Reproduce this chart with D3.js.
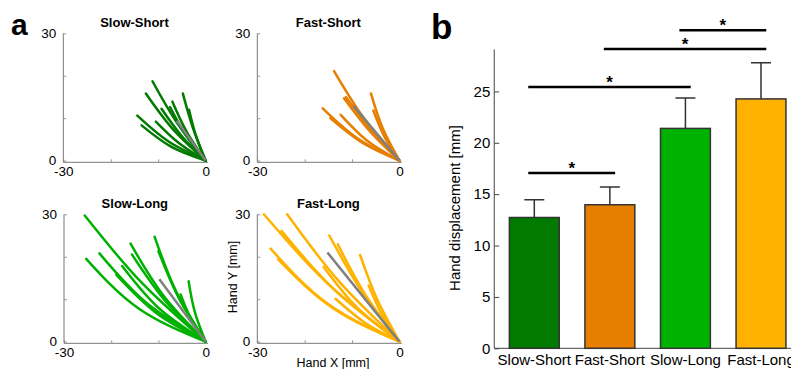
<!DOCTYPE html>
<html>
<head>
<meta charset="utf-8">
<script src="https://cdn.jsdelivr.net/npm/d3@7"></script>
<style>
  body { margin: 0; background: #fff; }
  svg { display: block; font-family: "Liberation Sans", Arial, sans-serif; }
</style>
</head>
<body>
<div id="chart"></div>
<script>
// ---- panel a: hand paths, each as [mid, end] in mm (all start at 0,0)
const conditions = ["Slow-Short", "Fast-Short", "Slow-Long", "Fast-Long"]
const colors = ["#007a00", "#e67e00", "#00b200", "#ffb300"]

const pathsSlowShort = [
  [[-6.1, 9.0], [-11.2, 18.7]],
  [[-6.9, 7.4], [-12.6, 15.8]],
  [[-2.7, 7.8], [-4.8, 15.8]],
  [[-7.8, 4.5], [-14.4, 10.6]],
  [[-7.3, 3.3], [-13.5, 8.3]],
  [[-5.05, 5.8], [-9.3, 12.2]],
  [[-5.65, 4.15], [-10.5, 9.2]],
  [[-3.95, 6.7], [-7.0, 13.9]],
  [[-2.05, 5.9], [-3.5, 12.0]],
  [[-4.2, 6.05], [-7.5, 12.6]]
]
const pathsFastShort = [
  [[-7.55, 10.1], [-13.8, 21.1]],
  [[-8.8, 5.2], [-16.2, 12.3]],
  [[-7.85, 4.2], [-14.6, 10.0]],
  [[-6.3, 7.0], [-11.7, 14.7]],
  [[-5.95, 7.25], [-11.3, 15.0]],
  [[-6.8, 4.7], [-12.4, 10.8]],
  [[-3.55, 7.7], [-6.0, 15.8]],
  [[-3.2, 5.7], [-5.5, 11.8]]
]
const pathsSlowLong = [
  [[-13.7, 14.05], [-25.6, 29.7]],
  [[-14.2, 7.8], [-25.3, 19.5]],
  [[-12.5, 9.1], [-22.5, 20.8]],
  [[-8.95, 10.85], [-15.9, 23.1]],
  [[-6.3, 11.95], [-10.8, 24.7]],
  [[-5.7, 10.3], [-10.0, 21.3]],
  [[-9.9, 7.85], [-17.7, 17.8]],
  [[-10.4, 6.7], [-18.9, 15.7]],
  [[-8.6, 9.65], [-15.6, 20.5]],
  [[-2.3, 7.0], [-3.6, 14.2]],
  [[-3.1, 5.35], [-5.3, 11.1]]
]
const pathsFastLong = [
  [[-15.4, 13.95], [-28.6, 30.0]],
  [[-12.8, 14.25], [-23.7, 30.0]],
  [[-13.55, 12.0], [-24.9, 26.1]],
  [[-15.2, 9.0], [-27.2, 21.9]],
  [[-14.1, 7.95], [-25.6, 19.4]],
  [[-8.1, 12.1], [-14.8, 25.0]],
  [[-7.2, 11.05], [-13.0, 22.9]],
  [[-4.7, 9.95], [-8.3, 20.4]],
  [[-8.9, 8.0], [-16.0, 17.6]],
  [[-7.2, 4.4], [-13.5, 10.1]],
  [[-3.7, 6.4], [-6.5, 13.2]]
]
const meanEnds = [[-6.1, 9.4], [-9.7, 12.9], [-9.8, 14.7], [-15.2, 21.0]]
const aTicksX = [-30, -20, -10, 0]
const aTicksY = [0, 10, 20, 30]

// ---- panel b: mean hand displacement
const means = [12.73, 13.97, 21.4, 24.27]
const errs = [1.72, 1.72, 2.96, 3.53]
const bTicks = [0, 5, 10, 15, 20, 25]
const sigFrom = [1, 1, 2, 3]
const sigTo = [2, 3, 4, 4]
const sigLevel = [17.06, 25.44, 29.14, 30.96]

const width = 791
const height = 369

const svg = d3.select("#chart").append("svg")
    .attr("width", width)
    .attr("height", height)

const allPaths = [pathsSlowShort, pathsFastShort, pathsSlowLong, pathsFastLong]
const boxes = [
  {left: 63.3, right: 208, top: 33.3, bottom: 162.3},
  {left: 257.3, right: 401.8, top: 33.3, bottom: 162.3},
  {left: 64, right: 208, top: 214.3, bottom: 343.3},
  {left: 257.3, right: 401.8, top: 214.3, bottom: 343.3}
]

conditions.forEach((name, i) => {
  const b = boxes[i]
  const x = d3.scaleLinear().domain([-30, 0.5]).range([b.left, b.right])
  const y = d3.scaleLinear().domain([-0.4, 30]).range([b.bottom, b.top])
  const g = svg.append("g")

  g.append("g")
      .attr("transform", `translate(0,${b.bottom})`)
      .call(d3.axisBottom(x).tickValues(aTicksX).tickSize(-3).tickPadding(4)
        .tickFormat(d => (d === -30 || d === 0) ? d : ""))
      .call(g => g.select(".domain").attr("stroke", "#777").attr("d", `M${b.left},0H${b.right}`))
      .call(g => g.selectAll(".tick line").attr("stroke", "#999"))
      .call(g => g.selectAll(".tick text").attr("font-size", 13.5).attr("fill", "#000"))

  g.append("g")
      .attr("transform", `translate(${b.left},0)`)
      .call(d3.axisLeft(y).tickValues(aTicksY).tickSize(-3).tickPadding(7)
        .tickFormat(d => (d === 0 || d === 30) ? d : ""))
      .call(g => g.select(".domain").attr("stroke", "#777").attr("d", `M0,${b.bottom}V${b.top}`))
      .call(g => g.selectAll(".tick line").attr("stroke", "#999"))
      .call(g => g.selectAll(".tick text").attr("font-size", 13.5).attr("fill", "#000"))

  const line = d3.line()
      .curve(d3.curveNatural)
      .x(d => x(d[0]))
      .y(d => y(d[1]))

  g.append("g")
      .attr("fill", "none")
      .attr("stroke", colors[i])
      .attr("stroke-width", 2.5)
      .attr("stroke-linecap", "round")
    .selectAll("path")
    .data(allPaths[i])
    .join("path")
      .attr("d", d => line([[0, 0], d[0], d[1]]))

  g.append("path")
      .attr("fill", "none")
      .attr("stroke", "#808080")
      .attr("stroke-width", 2.5)
      .attr("d", line([[0, 0], meanEnds[i]]))

  g.append("text")
      .attr("x", (x(-30) + x(0)) / 2)
      .attr("y", b.top - 6)
      .attr("text-anchor", "middle")
      .attr("font-size", 13)
      .attr("font-weight", "bold")
      .text(name)
})

svg.append("text")
    .attr("transform", "translate(237,277) rotate(-90)")
    .attr("text-anchor", "middle")
    .attr("font-size", 12.5)
    .text("Hand Y [mm]")

svg.append("text")
    .attr("x", 333)
    .attr("y", 367)
    .attr("text-anchor", "middle")
    .attr("font-size", 12.5)
    .text("Hand X [mm]")

svg.append("text")
    .attr("x", 11)
    .attr("y", 35)
    .attr("font-size", 30)
    .attr("font-weight", "bold")
    .text("a")

svg.append("text")
    .attr("x", 431)
    .attr("y", 39)
    .attr("font-size", 35)
    .attr("font-weight", "bold")
    .text("b")

// ---- panel b
const xb = d3.scaleLinear().domain([1, 4]).range([534.3, 761])
const yb = d3.scaleLinear().domain([0, 29.1]).range([348.3, 49.3])
const barW = xb(1.66) - xb(1)

const gb = svg.append("g")

gb.append("line")
    .attr("x1", xb(0.47)).attr("x2", width)
    .attr("y1", yb(0)).attr("y2", yb(0))
    .attr("stroke", "#444")

gb.append("g")
    .attr("transform", `translate(${xb(0.47)},0)`)
    .call(d3.axisLeft(yb).tickValues(bTicks).tickSize(-5).tickPadding(4))
    .call(g => g.select(".domain").attr("stroke", "#444").attr("d", `M0,${yb(0)}V${yb(29.1)}`))
    .call(g => g.selectAll(".tick line").attr("stroke", "#444"))
    .call(g => g.selectAll(".tick text").attr("font-size", 15).attr("fill", "#000"))

gb.append("g")
    .attr("stroke", "#333")
    .attr("stroke-width", 1.5)
  .selectAll("path")
  .data(means)
  .join("path")
    .attr("fill", "none")
    .attr("d", (d, i) => {
      const cx = xb(i + 1)
      return `M${cx},${yb(d)}V${yb(d + errs[i])}M${cx - 10},${yb(d + errs[i])}H${cx + 10}`
    })

gb.append("g")
    .attr("stroke", "#333")
    .attr("stroke-width", 1.5)
  .selectAll("rect")
  .data(means)
  .join("rect")
    .attr("x", (d, i) => xb(i + 1) - barW / 2)
    .attr("width", barW)
    .attr("y", d => yb(d))
    .attr("height", d => yb(0) - yb(d))
    .attr("fill", (d, i) => colors[i])

gb.append("g")
    .attr("font-size", 15)
    .attr("text-anchor", "middle")
  .selectAll("text")
  .data(conditions)
  .join("text")
    .attr("x", (d, i) => xb(i + 1))
    .attr("y", 365)
    .text(d => d)

gb.append("text")
    .attr("transform", "translate(460,208) rotate(-90)")
    .attr("text-anchor", "middle")
    .attr("font-size", 15)
    .text("Hand displacement [mm]")

const sig = gb.append("g")
  .selectAll("g")
  .data(sigLevel)
  .join("g")

sig.append("line")
    .attr("x1", (d, i) => xb(sigFrom[i] - 0.08))
    .attr("x2", (d, i) => xb(sigTo[i] + 0.07))
    .attr("y1", d => yb(d))
    .attr("y2", d => yb(d))
    .attr("stroke", "#000")
    .attr("stroke-width", 2.5)

sig.append("text")
    .attr("x", (d, i) => (xb(sigFrom[i] - 0.08) + xb(sigTo[i] + 0.07)) / 2)
    .attr("y", d => yb(d) + 1)
    .attr("text-anchor", "middle")
    .attr("font-size", 17)
    .attr("font-weight", "bold")
    .text("*")
</script>
</body>
</html>
